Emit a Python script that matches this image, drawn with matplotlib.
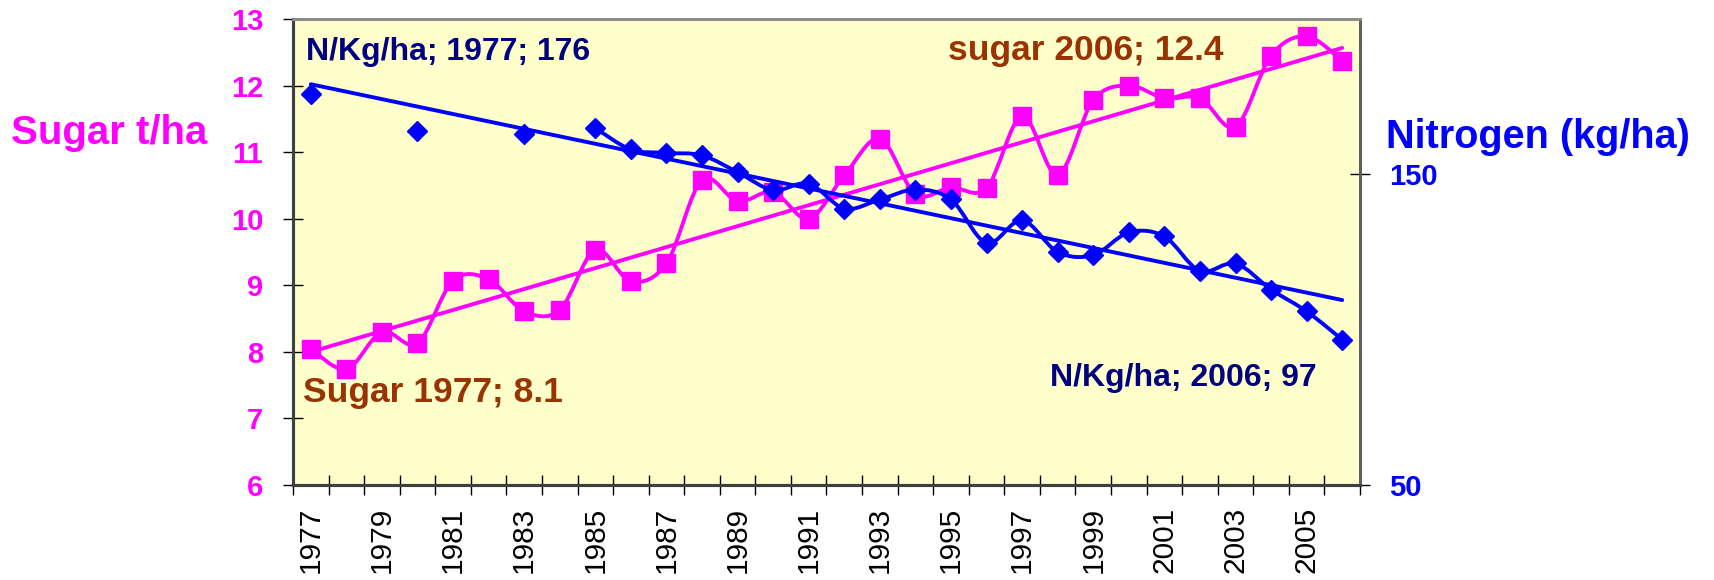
import numpy as np
import matplotlib
matplotlib.use("Agg")
import matplotlib.pyplot as plt
from matplotlib.path import Path
from matplotlib.patches import PathPatch

plt.rcParams['font.family'] = ['Liberation Sans', 'DejaVu Sans']

# data
years = list(range(1977, 2007))
sugar = [8.05, 7.74, 8.30, 8.13, 9.07, 9.09, 8.61, 8.63, 9.53, 9.06,
         9.33, 10.58, 10.26, 10.40, 10.00, 10.65, 11.20, 10.37, 10.47, 10.46,
         11.54, 10.66, 11.78, 12.00, 11.81, 11.81, 11.38, 12.45, 12.74, 12.37]
nan = np.nan
nitrogen = [176.0, nan, nan, 163.9, nan, nan, 162.9, nan, 164.9, 158.0,
            156.9, 156.1, 150.7, 144.9, 147.0, 139.0, 141.9, 145.1, 141.9, 127.9,
            135.2, 125.0, 124.0, 131.3, 130.0, 118.9, 121.3, 112.9, 105.9, 96.8]

sugar_ticks = [6, 7, 8, 9, 10, 11, 12, 13]
n_ticks = [50, 150]

MAGENTA = '#FF00FF'
BLUE = '#0000FF'
NAVY = '#000080'
BROWN = '#993300'


def smooth_path(x, y):
    # excel-style smoothed line (catmull-rom as cubic bezier)
    n = len(x)
    verts = [(x[0], y[0])]
    codes = [Path.MOVETO]
    for i in range(n - 1):
        a = i - 1 if i > 0 else i
        d = i + 2 if i + 2 < n else i + 1
        c1 = (x[i] + (x[i + 1] - x[a]) / 6, y[i] + (y[i + 1] - y[a]) / 6)
        c2 = (x[i + 1] - (x[d] - x[i]) / 6, y[i + 1] - (y[d] - y[i]) / 6)
        verts += [c1, c2, (x[i + 1], y[i + 1])]
        codes += [Path.CURVE4] * 3
    return Path(verts, codes)


def runs(x, y):
    # split a series at missing values
    out, cx, cy = [], [], []
    for xi, yi in zip(x, y):
        if np.isnan(yi):
            if cx:
                out.append((cx, cy))
            cx, cy = [], []
        else:
            cx.append(xi)
            cy.append(yi)
    if cx:
        out.append((cx, cy))
    return out


fig = plt.figure(figsize=(17.14, 5.8), dpi=100)
ax = fig.add_axes([293 / 1714, 1 - 485 / 580, 1067 / 1714, 466 / 580])
ax.set_facecolor('#FFFFCC')
ax2 = ax.twinx()

idx = np.arange(len(years))
LW = 2.8

# sugar series
ax.add_patch(PathPatch(smooth_path(idx, sugar), fill=False, edgecolor=MAGENTA, lw=LW, zorder=3))
ax.plot(idx, sugar, ls='none', marker='s', ms=13.5, color=MAGENTA, zorder=4)
k = np.polyfit(idx, sugar, 1)
ax.plot([idx[0], idx[-1]], np.polyval(k, [idx[0], idx[-1]]), color=MAGENTA, lw=LW,
        solid_capstyle='round', zorder=3)

# nitrogen series
for rx, ry in runs(idx, nitrogen):
    if len(rx) > 1:
        ax2.add_patch(PathPatch(smooth_path(rx, ry), fill=False, edgecolor=BLUE, lw=LW, zorder=3))
nv = np.array(nitrogen)
ok = ~np.isnan(nv)
ax2.plot(idx[ok], nv[ok], ls='none', marker='D', ms=10.5, color=BLUE, zorder=4)
kn = np.polyfit(idx[ok], nv[ok], 1)
ax2.plot([idx[0], idx[-1]], np.polyval(kn, [idx[0], idx[-1]]), color=BLUE, lw=LW,
         solid_capstyle='round', zorder=3)

ax.set_xlim(-0.5, len(years) - 0.5)
ax.set_ylim(6, 13)
ax2.set_ylim(50, 200)

# x axis: ticks on category borders, labels every other year
ax.set_xticks(np.arange(-0.5, len(years), 1))
ax.set_xticklabels([])
ax.set_xticks(idx[::2], minor=True)
ax.set_xticklabels([str(y) for y in years[::2]], minor=True, rotation=90, fontsize=21.5)
ax.tick_params(axis='x', which='major', direction='inout', length=14, width=1, color='black')
ax.tick_params(axis='x', which='minor', length=0, pad=15.5)

ax.set_yticks(sugar_ticks)
ax.set_yticklabels([str(t) for t in sugar_ticks], fontsize=21, fontweight='bold', color=MAGENTA)
ax.tick_params(axis='y', direction='inout', length=14, width=1, color='black', pad=14.5)

ax2.set_yticks(n_ticks)
ax2.set_yticklabels([str(t) for t in n_ticks], fontsize=21, fontweight='bold', color=BLUE)
ax2.tick_params(axis='y', direction='inout', length=14, width=1, color='black', pad=14)

for a in (ax, ax2):
    a.spines['top'].set_color('#8C8C8C')
    a.spines['top'].set_linewidth(2)
    a.spines['left'].set_color('#404040')
    a.spines['left'].set_linewidth(2.2)
    a.spines['right'].set_color('#606060')
    a.spines['right'].set_linewidth(2)
    a.spines['bottom'].set_color('#404040')
    a.spines['bottom'].set_linewidth(2.2)

# axis titles
fig.text(11 / 1714, 1 - 133 / 580, 'Sugar t/ha', fontsize=29, fontweight='bold',
         color=MAGENTA, ha='left', va='center')
fig.text(1386 / 1714, 1 - 137 / 580, 'Nitrogen (kg/ha)', fontsize=28.5, fontweight='bold',
         color=BLUE, ha='left', va='center')

# data callouts
ax.text(0.012, 0.912, 'N/Kg/ha; 1977; 176', transform=ax.transAxes, fontsize=23,
        fontweight='bold', color=NAVY, ha='left', va='baseline', zorder=5)
ax.text(0.614, 0.912, 'sugar 2006; 12.4', transform=ax.transAxes, fontsize=25.5,
        fontweight='bold', color=BROWN, ha='left', va='baseline', zorder=5)
ax.text(0.009, 0.178, 'Sugar 1977; 8.1', transform=ax.transAxes, fontsize=25.5,
        fontweight='bold', color=BROWN, ha='left', va='baseline', zorder=5)
ax.text(0.709, 0.212, 'N/Kg/ha; 2006; 97', transform=ax.transAxes, fontsize=23,
        fontweight='bold', color=NAVY, ha='left', va='baseline', zorder=5)

fig.savefig('out.png', dpi=100)
